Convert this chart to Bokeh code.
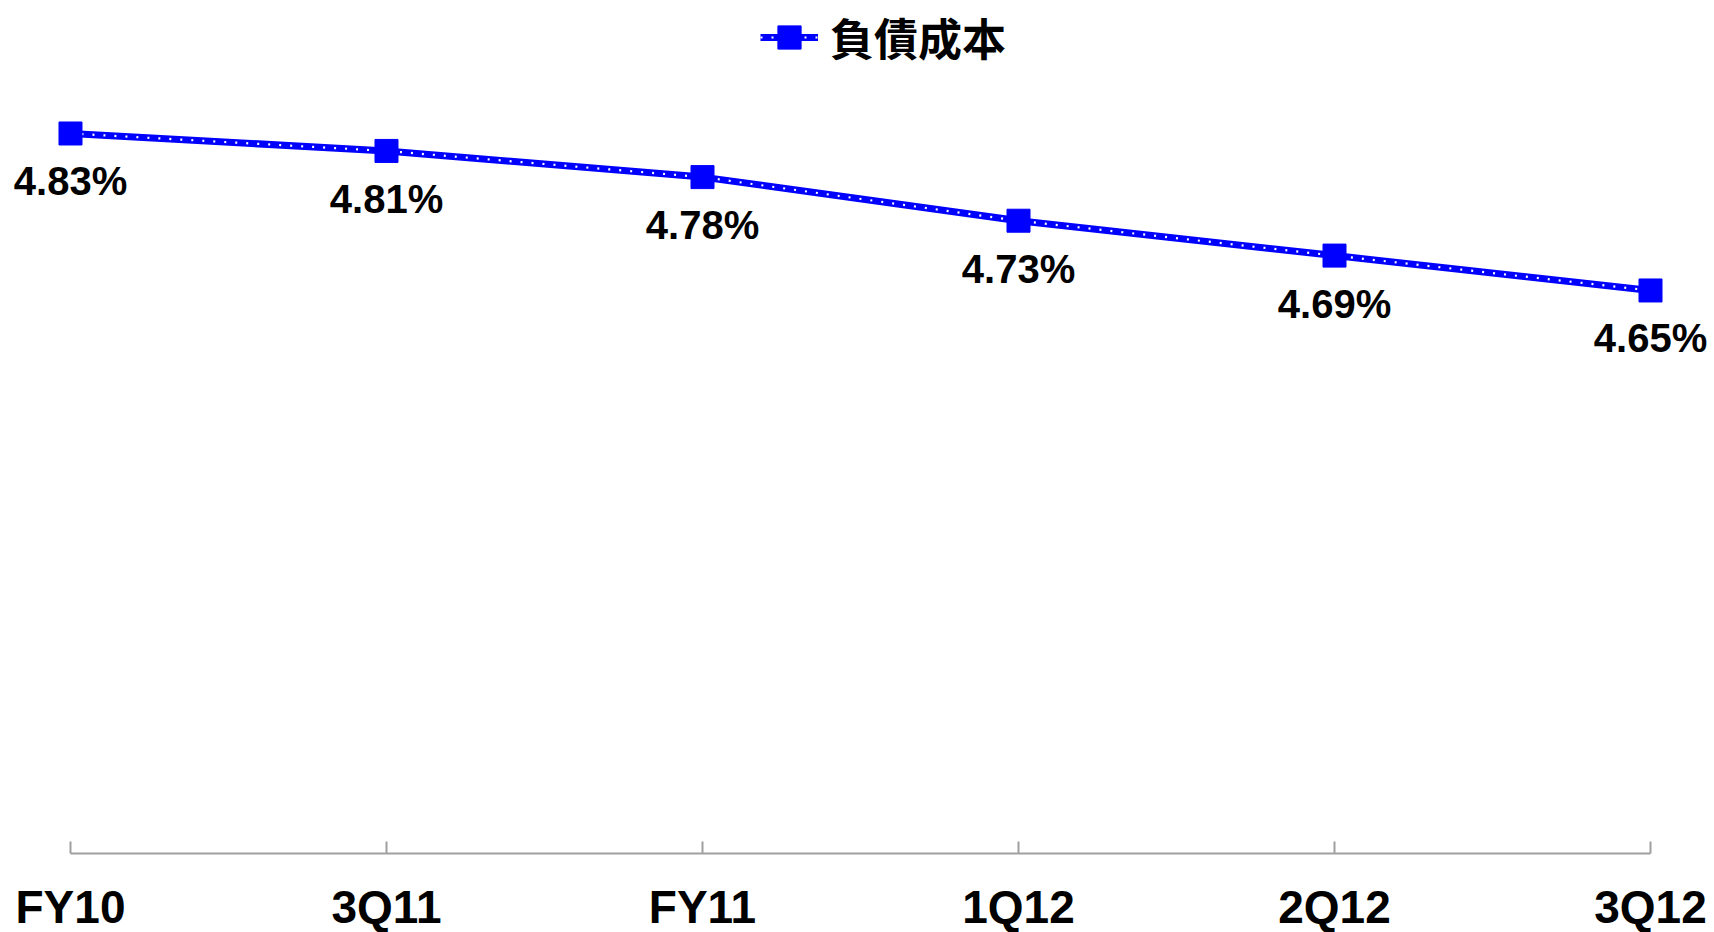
from bokeh.plotting import figure
from bokeh.models import Range1d, FixedTicker, Legend, LegendItem, ColumnDataSource
from bokeh.core.properties import value
from bokeh.embed import file_html
from bokeh.resources import INLINE

categories = ["FY10", "3Q11", "FY11", "1Q12", "2Q12", "3Q12"]
cost_of_debt = [4.83, 4.81, 4.78, 4.73, 4.69, 4.65]
value_labels = ["4.83%", "4.81%", "4.78%", "4.73%", "4.69%", "4.65%"]
series_name = "負債成本"

idx = list(range(len(categories)))
src = ColumnDataSource(dict(x=idx, y=cost_of_debt, lab=value_labels))

p = figure(frame_width=1714, frame_height=853, output_backend="svg", toolbar_location=None,
           x_range=Range1d(-0.2215, 5.2025), y_range=Range1d(4.0044, 4.9825),
           min_border_left=0, min_border_right=0, min_border_top=0, min_border_bottom=0)
p.outline_line_color = None
p.grid.visible = False
p.yaxis.visible = False
p.background_fill_color = "white"
p.border_fill_color = "white"

xa = p.xaxis[0]
xa.ticker = FixedTicker(ticks=idx)
xa.bounds = (0, len(categories) - 1)
xa.major_label_overrides = {i: c for i, c in zip(idx, categories)}
xa.axis_line_color = "#a0a0a0"
xa.axis_line_width = 2
xa.major_tick_line_color = "#a0a0a0"
xa.major_tick_line_width = 2
xa.major_tick_in = 12
xa.major_tick_out = 0
xa.minor_tick_line_color = None
xa.major_label_text_font = "Liberation Sans"
xa.major_label_text_font_style = "bold"
xa.major_label_text_font_size = "46px"
xa.major_label_text_color = "black"
xa.major_label_standoff = 27

l1 = p.line("x", "y", source=src, line_color="#0000FF", line_width=7)
l2 = p.line("x", "y", source=src, line_color="white", line_width=2.2, line_dash="2 9")
m = p.scatter("x", "y", source=src, marker="square", size=23, fill_color="#0000FF", line_color="#0000FF")

p.text("x", "y", text="lab", source=src, text_font=value("Liberation Sans"), text_font_style="bold",
       text_font_size="40px", text_color="black", text_align="center", text_baseline="top", y_offset=26)

legend = Legend(items=[LegendItem(label=series_name, renderers=[l1, l2, m])],
                location=(760, 784), orientation="horizontal",
                glyph_width=58, glyph_height=60, label_text_font="Noto Sans CJK TC",
                label_text_font_size="44px", label_text_font_style="bold", label_text_color="black",
                label_standoff=12,
                padding=0, margin=0, border_line_color=None, background_fill_alpha=0)
p.add_layout(legend)

open("out.html", "w").write(file_html(p, INLINE))
